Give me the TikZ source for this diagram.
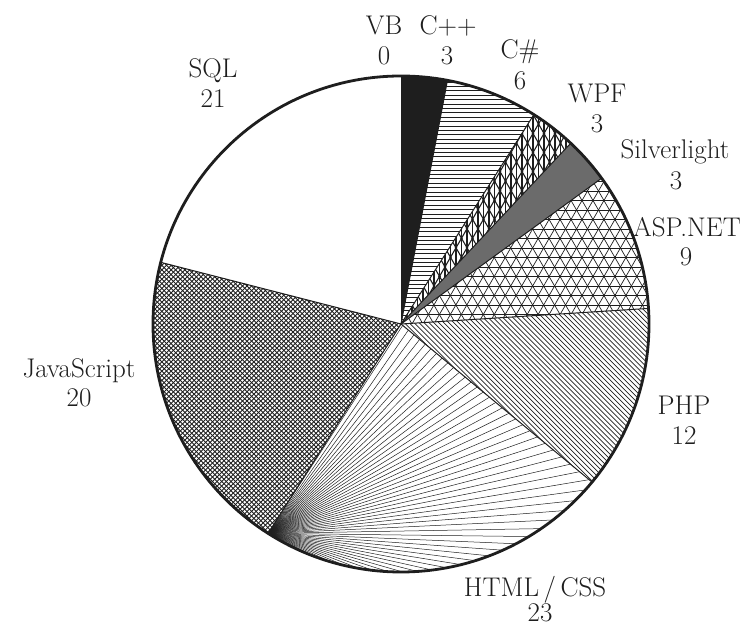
\documentclass[tikz,border=0pt]{standalone}
\usepackage{fontspec}
\usetikzlibrary{calc}
\definecolor{ink}{HTML}{1E1E1E}
\definecolor{slgray}{HTML}{6B6B6B}
\begin{document}
\begin{tikzpicture}[x=1pt,y=1pt,
  patline/.style={draw=ink,line width=0.7pt},
  jsline/.style={draw=ink,line width=0.9pt},
  fanline/.style={draw=ink,line width=0.5pt},
  wpfline/.style={draw=ink,line width=1.1pt},
  sepline/.style={draw=ink,line width=1pt},
  rimline/.style={draw=ink,line width=2.8pt},
  lab/.style={anchor=base,inner sep=0pt,font=\fontsize{27}{30}\selectfont,text=ink}]
\useasboundingbox (0,0) rectangle (745,626);
\def\R{248}
\coordinate (O) at (401,302);
\coordinate (P) at ($(O)+(-122.4:\R)$);
% C++ black
\fill[ink] (O) -- ++(90:\R) arc[start angle=90,end angle=79.2,radius=\R] -- cycle;
% C# horizontal lines
\begin{scope}
\clip (O) -- ++(79.2:\R) arc[start angle=79.2,end angle=57.6,radius=\R] -- cycle;
\foreach \i in {0,...,60} \draw[patline] (380,{302+\i*4.4}) -- (700,{302+\i*4.4});
\end{scope}
% WPF lattice
\begin{scope}
\clip (O) -- ++(57.6:\R) arc[start angle=57.6,end angle=46.8,radius=\R] -- cycle;
\foreach \k in {-50,...,50} {
  \draw[wpfline] ({401+\k*11+400*cos(240)},{302+400*sin(240)}) -- ++(60:800);
  \draw[wpfline] ({401+\k*11+400*cos(300)},{302+400*sin(300)}) -- ++(120:800);
}
\foreach \k in {0,...,50} \draw[wpfline] ({401+\k*5.5},300) -- ({401+\k*5.5},560);
\foreach \r in {0,...,27} \foreach \k in {0,...,18}
  \fill[ink] ({401+\k*11+mod(\r,2)*5.5},{302+\r*9.526}) circle (1.4);
\end{scope}
% Silverlight gray
\fill[slgray] (O) -- ++(46.8:\R) arc[start angle=46.8,end angle=36,radius=\R] -- cycle;
% ASP.NET triangles
\begin{scope}
\clip (O) -- ++(36:\R) arc[start angle=36,end angle=3.6,radius=\R] -- cycle;
\foreach \i in {0,...,18} \draw[patline] (390,{302+\i*9.5}) -- (660,{302+\i*9.5});
\foreach \k in {-40,...,40} {
  \draw[patline] ({401+\k*10.97+400*cos(240)},{302+400*sin(240)}) -- ++(60:800);
  \draw[patline] ({401+\k*10.97+400*cos(300)},{302+400*sin(300)}) -- ++(120:800);
}
\end{scope}
% PHP diagonal lines
\begin{scope}
\clip (O) -- ++(3.6:\R) arc[start angle=3.6,end angle=-39.6,radius=\R] -- cycle;
\foreach \i in {0,...,110} \draw[patline] ({460+\i*4.95-400},400) -- ({460+\i*4.95},0);
\end{scope}
% HTML/CSS fan
\begin{scope}
\clip (O) -- ++(-39.6:\R) arc[start angle=-39.6,end angle=-122.4,radius=\R] -- cycle;
\foreach \i in {0,...,55} \draw[fanline] (P) -- ++({-33+\i*1.7}:700);
\end{scope}
% JavaScript crosshatch
\begin{scope}
\clip (O) -- ++(-122.4:\R) arc[start angle=-122.4,end angle=-194.4,radius=\R] -- cycle;
\foreach \i in {0,...,140} {
  \draw[jsline] ({150+\i*4.6-500},500) -- ({150+\i*4.6},0);
  \draw[jsline] ({-300+\i*4.6},0) -- ({-300+\i*4.6+500},500);
}
\end{scope}
% separators
\foreach \a in {90,79.2,57.6,46.8,36,3.6,-39.6,-122.4,-194.4}
  \draw[sepline] (O) -- ++(\a:\R);
\draw[rimline] (O) circle (\R);
% labels
\node[lab] (vbn) at (384,591) {VB};   \node[lab] (vbv) at (384,561) {0};
\node[lab] (cppn) at (448,591) {C++}; \node[lab] (cppv) at (447,561) {3};
\node[lab] (csn) at (520,567) {C\#};  \node[lab] (csv) at (520,536) {6};
\node[lab] (wpfn) at (597,523) {WPF}; \node[lab] (wpfv) at (597,493) {3};
\node[lab] (sln) at (675,467) {Silverlight}; \node[lab] (slv) at (676,436) {3};
\node[lab] (aspn) at (687,389) {ASP.NET}; \node[lab] (aspv) at (686,360) {9};
\node[lab] (phpn) at (684,211) {PHP}; \node[lab] (phpv) at (684,181) {12};
\node[lab] (htmln) at (535,29) {HTML\,/\,CSS}; \node[lab] (htmlv) at (540,4) {23};
\node[lab] (jsn) at (79,248) {JavaScript}; \node[lab] (jsv) at (79,219) {20};
\node[lab] (sqln) at (213,548) {SQL}; \node[lab] (sqlv) at (213,518) {21};
\end{tikzpicture}
\end{document}
